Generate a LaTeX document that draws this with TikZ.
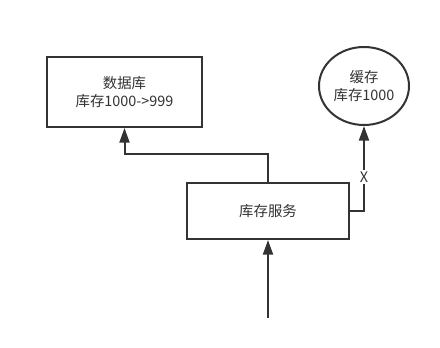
\documentclass[tikz,border=0pt]{standalone}
\usepackage{fontspec}
\setmainfont{Noto Sans CJK SC}
\usepackage{tikz}
\definecolor{ink}{RGB}{51, 51, 51}
\usetikzlibrary{shapes.geometric, arrows.meta, positioning, calc}

\begin{document}
\begin{tikzpicture}[
    x=0.75pt, y=-0.75pt,
    box/.style={draw=ink, line width=1.5pt, rectangle, fill=white,
                align=center, font=\fontsize{10.8}{13.5}\selectfont, text=ink},
    store/.style={draw=ink, line width=1.5pt, ellipse, fill=white,
                  align=center, font=\fontsize{10.8}{13.5}\selectfont, text=ink,
                  inner sep=0pt},
    arrow/.style={-{Triangle[length=11pt, width=7.5pt]}, line width=1.5pt, ink}
]
    \useasboundingbox (0,0) rectangle (440,348);
    % Nodes
    \node[box, minimum width=116pt, minimum height=52.5pt] (db) at (124.5,92) {数据库\\库存1000->999};
    \node[store, minimum width=67.5pt, minimum height=58.5pt] (cache) at (364,86) {缓存\\库存1000};
    \node[box, minimum width=121.5pt, minimum height=42pt] (svc) at (268,211) {库存服务};
    \coordinate (entry) at (268,318);

    % Arrows
    \draw[arrow] (entry) -- (svc);
    \draw[arrow] (svc.north) -- ++(0,-28) -| (db.south);
    \draw[arrow] (svc.east) -| node[pos=0.7, fill=white, inner sep=1.5pt,
        font=\fontsize{10.8}{13.5}\selectfont, text=ink] {X} (cache.south);
\end{tikzpicture}
\end{document}
